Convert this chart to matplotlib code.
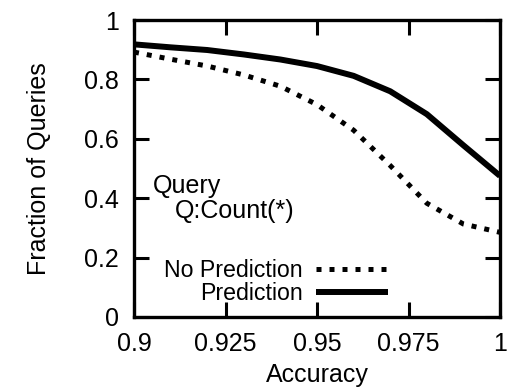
import matplotlib
matplotlib.use("Agg")
import matplotlib.pyplot as plt

plt.rcParams['font.family'] = ['Liberation Sans', 'DejaVu Sans']

# Accuracy levels and fraction of queries answered
accuracy = [0.90, 0.91, 0.92, 0.93, 0.94, 0.95, 0.96, 0.97, 0.98, 0.99, 1.00]
no_prediction = [0.892, 0.868, 0.845, 0.815, 0.777, 0.715, 0.629, 0.510, 0.383, 0.313, 0.285]
prediction = [0.918, 0.908, 0.899, 0.884, 0.867, 0.845, 0.812, 0.760, 0.683, 0.578, 0.475]

x_ticks = [0.9, 0.925, 0.95, 0.975, 1.0]
x_tick_labels = ["0.9", "0.925", "0.95", "0.975", "1"]
y_ticks = [0, 0.2, 0.4, 0.6, 0.8, 1.0]
y_tick_labels = ["0", "0.2", "0.4", "0.6", "0.8", "1"]

fig = plt.figure(figsize=(5.13, 3.87), dpi=100)
ax = fig.add_axes([0.2612, 0.1809, 0.7135, 0.7674])

ax.plot(accuracy, no_prediction, color='black', linewidth=3.6,
        linestyle=(0, (1, 1.6)), dash_capstyle='butt', label='No Prediction')
ax.plot(accuracy, prediction, color='black', linewidth=4.3,
        solid_capstyle='butt', label='Prediction')

ax.set_xlim(0.9, 1.0)
ax.set_ylim(0, 1)
ax.set_xticks(x_ticks)
ax.set_xticklabels(x_tick_labels)
ax.set_yticks(y_ticks)
ax.set_yticklabels(y_tick_labels)

for s in ax.spines.values():
    s.set_linewidth(2.4)
ax.tick_params(direction='in', length=10.8, width=2.2, labelsize=18,
               top=True, right=True, pad=11)

ax.set_xlabel("Accuracy", fontsize=18, labelpad=5)
ax.set_ylabel("Fraction of Queries", fontsize=18, labelpad=24)

ax.text(0.052, 0.4175, "Query", transform=ax.transAxes, fontsize=18,
        ha='left', va='baseline')
ax.text(0.112, 0.333, "Q:Count(*)", transform=ax.transAxes, fontsize=18,
        ha='left', va='baseline')

ax.legend(loc='lower right', bbox_to_anchor=(0.739, -0.015), frameon=False,
          markerfirst=False, fontsize=16.7, handlelength=3.1,
          handletextpad=0.6, labelspacing=0.02, borderaxespad=0.3)

fig.savefig("out.png", dpi=100)
